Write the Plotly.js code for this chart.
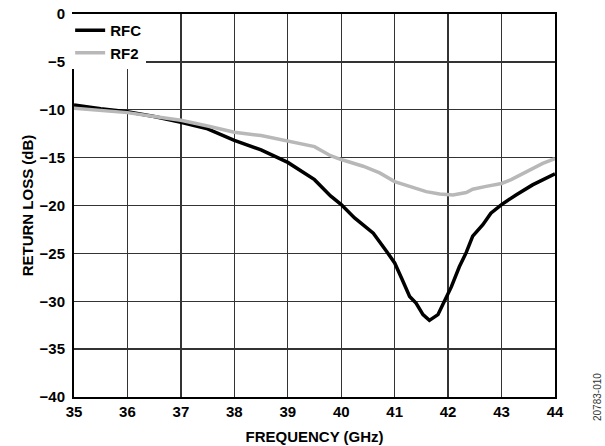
<!DOCTYPE html>
<html>
<head>
<meta charset="utf-8">
<script src="https://cdn.plot.ly/plotly-3.0.1.min.js"></script>
<style>html,body{margin:0;padding:0;background:#fff;}#chart{width:605px;height:446px;}</style>
</head>
<body>
<div id="chart"></div>
<script>
const rfcFreq = [35, 35.5, 36, 36.5, 37, 37.5, 38, 38.5, 39, 39.5, 39.8, 40, 40.25, 40.6, 40.85, 41, 41.13, 41.28, 41.4, 41.53, 41.65, 41.81, 41.93, 42.06, 42.21, 42.34, 42.46, 42.65, 42.8, 43, 43.27, 43.58, 44];
const rfcLoss = [-9.5, -9.9, -10.2, -10.7, -11.3, -12.0, -13.2, -14.2, -15.5, -17.3, -19.0, -19.9, -21.3, -22.9, -24.8, -26.0, -27.6, -29.5, -30.2, -31.4, -32.0, -31.4, -30.0, -28.5, -26.4, -24.9, -23.2, -22.0, -20.8, -19.9, -18.9, -17.85, -16.7];
const rf2Freq = [35, 35.5, 36, 36.5, 37, 37.5, 38, 38.5, 39, 39.5, 39.8, 40, 40.41, 40.72, 41, 41.28, 41.59, 41.84, 42.09, 42.34, 42.46, 42.71, 43, 43.18, 43.52, 43.77, 44];
const rf2Loss = [-9.85, -10.1, -10.3, -10.7, -11.1, -11.7, -12.35, -12.7, -13.25, -13.85, -14.8, -15.2, -15.9, -16.6, -17.5, -18.0, -18.55, -18.8, -18.9, -18.65, -18.3, -18.0, -17.7, -17.3, -16.3, -15.6, -15.1];
const xTicks = [35, 36, 37, 38, 39, 40, 41, 42, 43, 44];
const yTicks = [0, -5, -10, -15, -20, -25, -30, -35, -40];

const fontFam = 'Liberation Sans, Arial, sans-serif';
const traces = [
  {x: rfcFreq, y: rfcLoss, name: 'RFC', mode: 'lines', line: {color: '#000000', width: 3.5}},
  {x: rf2Freq, y: rf2Loss, name: 'RF2', mode: 'lines', line: {color: '#b8b8b8', width: 3.5}}
];
const layout = {
  width: 605, height: 446,
  margin: {l: 74, r: 50, t: 14, b: 49},
  paper_bgcolor: '#ffffff', plot_bgcolor: '#ffffff',
  font: {family: fontFam, size: 15, color: '#000', weight: 'bold'},
  showlegend: true,
  legend: {x: -0.008, y: 1, xanchor: 'left', yanchor: 'top', bgcolor: '#ffffff', borderwidth: 0,
           font: {family: fontFam, size: 15, weight: 'bold'}, tracegroupgap: 0, itemwidth: 30},
  xaxis: {
    range: [35, 44], tickvals: xTicks, ticktext: xTicks.map(String),
    showgrid: true, gridcolor: '#333333', gridwidth: 1.3,
    showline: true, mirror: true, linecolor: '#000', linewidth: 2,
    ticks: '', zeroline: false,
    tickfont: {family: fontFam, size: 15, weight: 'bold'},
    title: {text: 'FREQUENCY (GHz)', font: {family: fontFam, size: 15, weight: 'bold'}, standoff: 12}
  },
  yaxis: {
    range: [-40, 0], tickvals: yTicks,
    showgrid: true, gridcolor: '#333333', gridwidth: 1.3,
    showline: true, mirror: true, linecolor: '#000', linewidth: 2,
    ticks: '', zeroline: false, ticklabelstandoff: 4,
    tickfont: {family: fontFam, size: 15, weight: 'bold'},
    title: {text: 'RETURN LOSS (dB)', font: {family: fontFam, size: 15, weight: 'bold'}, standoff: 2}
  },
  annotations: [{
    text: '20783-010', xref: 'paper', yref: 'paper', x: 1, y: 0,
    xshift: 42, yshift: 0, textangle: -90, showarrow: false,
    font: {family: fontFam, size: 10, color: '#333', weight: 'normal'},
    xanchor: 'center', yanchor: 'middle'
  }]
};
Plotly.newPlot('chart', traces, layout, {displayModeBar: false, staticPlot: true});
</script>
</body>
</html>
